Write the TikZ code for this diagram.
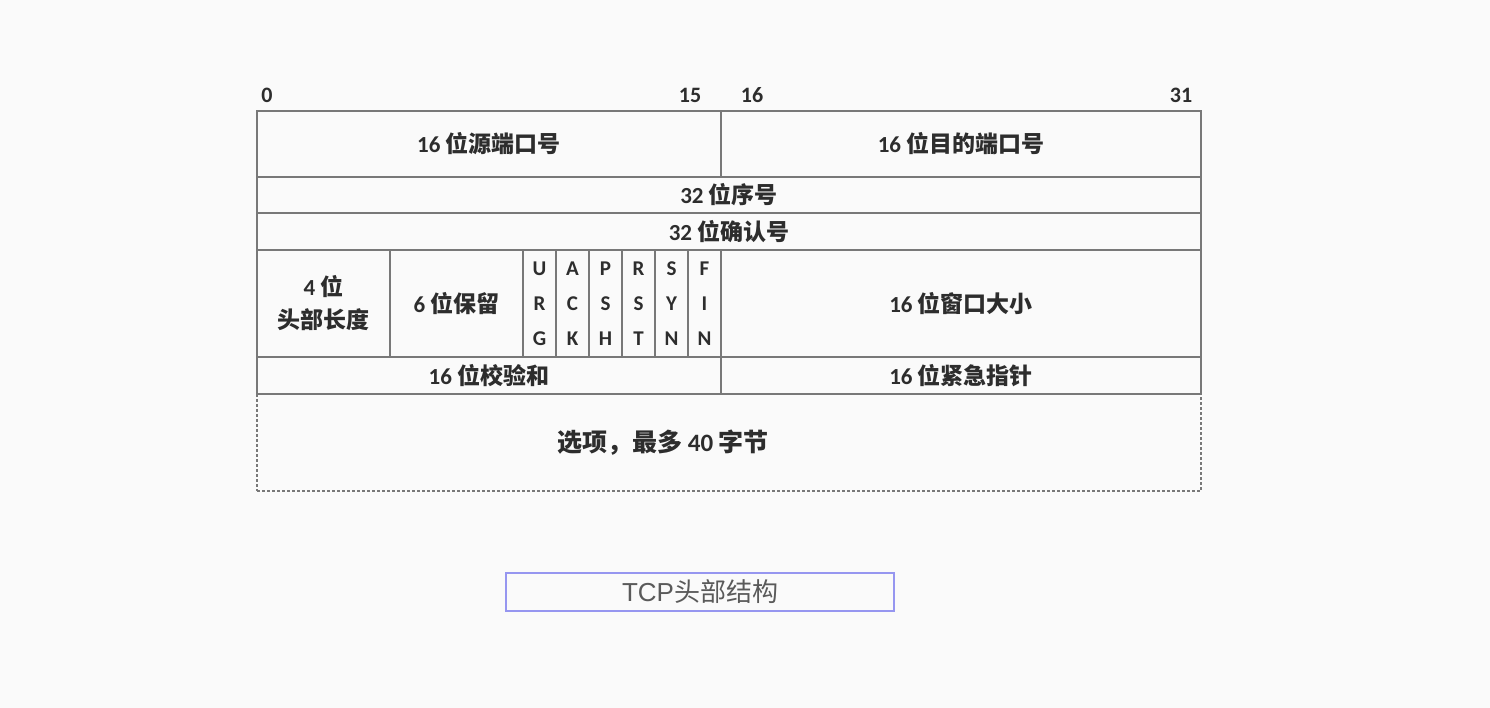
\documentclass[tikz,border=0pt]{standalone}
\usepackage{fontspec}
\setmainfont{Carlito}
\newfontfamily\cjk{Noto Sans CJK SC}
\newfontfamily\capfont{Liberation Sans}
\usetikzlibrary{positioning}
\definecolor{bggray}{RGB}{250,250,250}
\definecolor{linegray}{RGB}{120,120,120}
\definecolor{textgray}{RGB}{45,45,45}
\definecolor{capblue}{RGB}{150,150,240}
\definecolor{capgray}{RGB}{90,90,90}
\newcommand{\zh}[1]{{\cjk #1}}

\begin{document}
\begin{tikzpicture}[x=1pt, y=-1pt,
  field/.style={draw=linegray, line width=1.5pt, anchor=north west,
    inner sep=0pt, outer sep=0pt, text=textgray, align=center,
    font=\bfseries\fontsize{23}{33}\selectfont},
  flag/.style={field, minimum width=33pt, minimum height=107pt,
    font=\bfseries\fontsize{21}{35}\selectfont},
  bitnum/.style={inner sep=0pt, text=textgray,
    font=\bfseries\fontsize{22}{24}\selectfont}]
  % background and page size
  \fill[bggray] (0,0) rectangle (1490,708);
  \useasboundingbox (0,0) rectangle (1490,708);

  % bit numbers
  \node[bitnum] (bit0) at (267,95) {0};
  \node[bitnum] (bit15) at (690,95) {15};
  \node[bitnum] (bit16) at (752,95) {16};
  \node[bitnum] (bit31) at (1181,95) {31};

  % header fields
  \node[field, minimum width=464pt, minimum height=66pt] (srcport) at (257,111) {16 \zh{位源端口号}};
  \node[field, minimum width=480pt, minimum height=66pt] (dstport) at (721,111) {16 \zh{位目的端口号}};
  \node[field, minimum width=944pt, minimum height=36pt] (seqnum) at (257,177) {32 \zh{位序号}};
  \node[field, minimum width=944pt, minimum height=37pt] (acknum) at (257,213) {32 \zh{位确认号}};
  \node[field, minimum width=133pt, minimum height=107pt] (hdrlen) at (257,250) {4 \zh{位}\\\zh{头部长度}};
  \node[field, minimum width=133pt, minimum height=107pt] (reserved) at (390,250) {6 \zh{位保留}};
  \foreach \a/\b/\c [count=\i from 0] in {U/R/G, A/C/K, P/S/H, R/S/T, S/Y/N, F/I/N}
    \node[flag] (flag\i) at (523+33*\i,250) {\a\\\b\\\c};
  \node[field, minimum width=480pt, minimum height=107pt] (window) at (721,250) {16 \zh{位窗口大小}};
  \node[field, minimum width=464pt, minimum height=37pt] (checksum) at (257,357) {16 \zh{位校验和}};
  \node[field, minimum width=480pt, minimum height=37pt] (urgptr) at (721,357) {16 \zh{位紧急指针}};

  % options, dashed
  \node[field, dash pattern=on 3pt off 2pt, minimum width=944pt, minimum height=97pt] (options) at (257,394) {};
  \node[inner sep=0pt, text=textgray, font=\bfseries\fontsize{25}{28}\selectfont] (optext) at (663,443) {\zh{选项，最多} 40 \zh{字节}};

  % caption
  \node[draw=capblue, line width=2pt, minimum width=388pt, minimum height=38pt,
    inner sep=0pt, text=capgray, font=\fontsize{26}{28}\selectfont] (caption) at (700,592)
    {\capfont TCP\zh{头部结构}};
\end{tikzpicture}
\end{document}
